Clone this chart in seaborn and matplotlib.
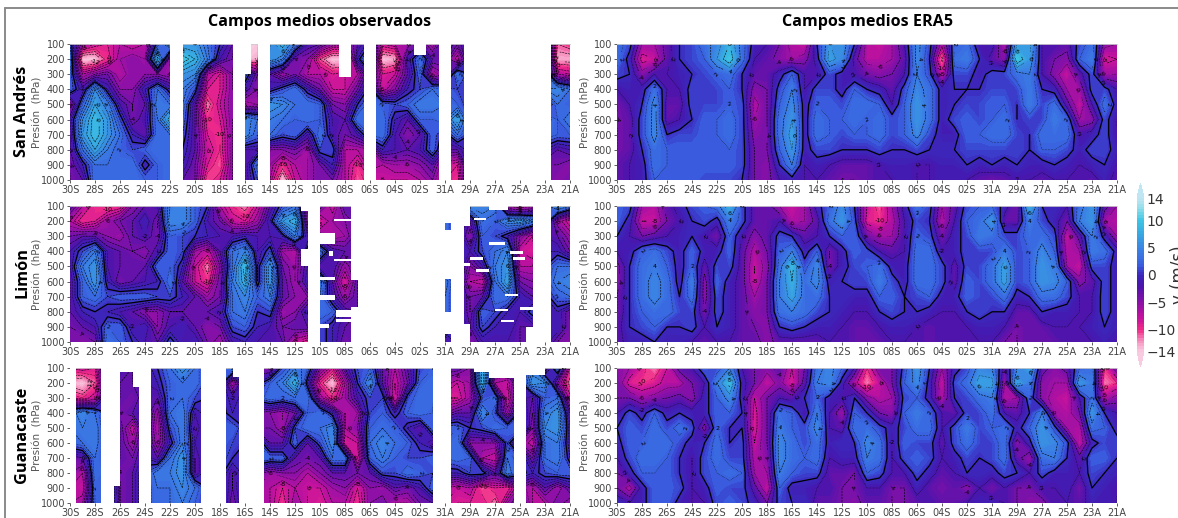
import numpy as np
import matplotlib
matplotlib.use("Agg")
import matplotlib.pyplot as plt
from matplotlib.lines import Line2D
import seaborn as sns

# dias (cada 2 dias una etiqueta) y niveles de presion
dates = ["30S","28S","26S","24S","22S","20S","18S","16S","14S","12S","10S",
         "08S","06S","04S","02S","31A","29A","27A","25A","23A","21A"]
pres = [100,200,300,400,500,600,700,800,900,1000]

# v (m/s), una fila por dia (30S -> 21A), cada fila de 100 a 1000 hPa
sa_obs = [
 [1,3,2,2,-6,-2,-3,-3,-4,-4],[-6,-14,-7,-2,2,5,6,3,-1,-3],[-8,-14,-5,5,7,9,9,7,3,3],
 [-9,-10,-4,-1,4,6,6,4,3,3],[-7,-6,-7,-5,-2,1,3,2,3,3],[-8,-5,-5,-5,-4,-4,-1,1,3,3],
 [-7,-6,-5,-1,-3,-2,-3,2,-1,2],[1,8,-5,3,4,3,3,3,2,2],[6,-6,-6,-1,3,8,3,3,3,3],
 [6,10,6,4,3,2,1,0,-1,-3],[6,8,5,1,-3,-3,-3,-3,-4,-4],[3,4,-7,-9,-12,-10,-9,-8,-9,-11],
 [0,-2,-9,-9,-8,-9,-10,-10,-11,-9],[-3,-4,-5,-5,-5,-5,-5,-5,-5,-5],[-14,-14,2,-2,-7,5,5,-2,-3,-3],
 [-14,-13,-4,-5,-6,3,2,-2,3,1],[5,6,-3,-1,6,4,3,-5,-6,-7],[8,4,-6,1,5,3,1,-5,-10,-14],
 [3,-4,-4,3,3,2,2,-4,-7,-8],[-2,-5,-7,-1,3,3,-2,-6,-6,-6],[-3,-11,-7,-4,2,2,3,1,-4,-4],
 [-6,-14,-9,-8,-4,-2,-2,1,-1,-4],[-6,-14,-8,-8,-5,-3,-4,-7,-7,-7],[-3,-1,-7,-4,0,3,-2,-7,-10,-11],
 [0,5,-1,1,3,3,2,-6,-6,-9],[-8,-14,-9,-8,2,3,3,-1,-7,-8],[-7,-13,-8,-5,1,-1,-2,-2,-6,-8],
 [-6,-2,-3,-1,2,-3,-5,-3,-6,-8],[-3,3,2,1,4,2,-3,-2,-5,-7],[-7,-3,-7,3,4,2,2,2,-3,-5],
 [-1,-3,-5,2,3,3,-1,-3,-8,-9],[-4,-8,3,1,2,7,3,-3,-9,-10],[0,0,0,0,0,0,0,0,0,0],
 [0,0,0,0,0,0,0,0,0,0],[0,0,0,0,0,0,0,0,0,0],[0,0,0,0,0,0,0,0,0,0],
 [0,0,0,0,0,0,0,0,0,0],[0,0,0,0,0,0,0,0,0,0],[5,6,3,4,-2,4,3,-1,-4,-4],
 [-11,-13,-7,5,3,2,2,-3,-4,-5],[-10,-13,-8,3,2,4,2,-2,-5,-4],
]
sa_era = [
 [3,3,1,-2,-4,-4,-4,-4,-3,-3],[1,-1,0,-1,-2,-3,-3,-3,-2,-2],[-6,-9,-5,-1,0,1,1,0,-1,-1],
 [-6,-8,-2,3,5,5,5,3,3,2],[-3,-3,-2,-2,-3,-3,0,2,2,2],[0,0,-1,-2,-3,-2,1,2,2,2],
 [1,1,0,1,1,0,1,2,2,2],[3,2,1,1,1,2,2,2,2,1],[5,6,2,1,1,2,2,2,2,1],
 [8,10,3,2,2,3,3,2,2,1],[3,3,0,0,1,1,1,1,1,0],[-1,-2,-3,-5,-7,-6,-5,-4,-4,-4],
 [-2,-3,-3,-4,-4,-4,-4,-4,-5,-5],[-4,-5,-1,1,2,3,3,2,0,-2],[-7,-6,2,4,5,6,7,6,4,-1],
 [-8,-5,-2,-2,-1,-1,-1,-1,-2,-2],[0,-1,-2,1,2,3,3,1,-1,-2],[6,7,1,1,2,2,2,1,-2,-3],
 [6,5,-1,-1,1,2,1,0,-3,-4],[0,-3,-2,2,3,3,2,0,-3,-4],[-7,-7,-4,0,3,2,2,0,-3,-3],
 [-8,-7,-5,-1,2,3,3,1,-2,-2],[-6,-6,-4,-3,-2,1,1,0,-1,-2],[-2,-3,-2,1,2,2,2,0,-1,-1],
 [5,5,4,5,6,6,5,1,-2,-2],[1,0,1,3,3,3,1,0,-2,-2],[-7,-13,-8,-1,-1,-1,-1,0,-1,-1],
 [2,3,1,0,0,1,-1,0,-1,-1],[3,4,1,0,1,2,2,1,0,-2],[-2,0,-1,0,1,1,2,1,-1,-3],
 [-1,-3,1,1,2,2,3,1,0,-4],[-7,-5,1,1,2,3,3,1,-1,-3],[6,10,3,1,0,0,1,1,0,-2],
 [7,6,4,4,4,1,0,0,-1,-2],[-2,-2,-2,0,1,1,3,2,-1,-3],[-2,-4,-5,-1,3,4,3,2,0,-2],
 [-3,-5,-8,-6,-3,2,3,1,-1,-2],[1,2,-3,-6,-8,-6,-2,-1,-2,-2],[3,4,1,1,-2,-5,-1,1,-1,-3],
 [-5,-9,-6,1,3,1,1,1,0,-1],[-6,-8,-6,-2,-1,-2,-2,-1,-2,-3],
]
li_obs = [
 [-3,-7,-4,-2,-2,-3,-3,-3,-4,-4],[-7,-10,-3,1,4,2,2,-1,-3,-5],[-10,-9,-3,4,6,6,3,0,-2,-4],
 [-11,-6,-5,-2,-2,-1,1,-1,2,3],[-10,-4,-6,-3,-3,-4,2,-2,2,2],[-5,-3,-3,-4,-3,-3,2,-3,-2,0],
 [-3,-1,-2,-5,-3,-2,2,-5,-1,-2],[-2,-4,-4,-2,2,-1,1,-5,-5,-3],[4,5,2,2,2,3,1,-3,-2,1],
 [5,5,1,1,-1,-3,-1,-3,-1,-2],[2,2,0,-6,-8,-8,-3,-3,-3,-1],[0,-2,-1,-8,-12,-10,-6,-3,-5,-4],
 [-7,-4,-2,-3,-5,-4,-4,-2,-4,-6],[-10,-8,-2,3,3,4,3,3,1,-2],[-12,-9,-1,5,9,8,5,4,2,-1],
 [-8,-6,-2,-2,-1,-1,2,0,-1,-2],[-3,-1,-2,1,6,6,4,1,-2,-2],[1,6,-1,-6,-4,-3,-3,-6,-4,-3],
 [3,8,4,-7,-6,-6,-5,-5,-3,-8],[-5,-6,-2,1,-2,-1,-5,-1,-3,-10],[-4,-9,-5,3,-3,4,3,3,1,1],
 [-8,-6,-7,-2,-2,-3,-2,2,-1,-1],[-3,-5,-6,-3,-6,-9,-6,-2,-3,-4],[-3,-3,-3,-3,-3,-3,-3,-3,-3,-3],
 [0,0,0,0,0,0,0,0,0,0],[0,0,0,0,0,0,0,0,0,0],[0,0,0,0,0,0,0,0,0,0],
 [0,0,0,0,0,0,0,0,0,0],[0,0,0,0,0,0,0,0,0,0],[0,0,0,0,0,0,0,0,0,0],
 [2,3,3,0,0,4,3,3,0,-3],[0,0,0,0,0,0,0,0,0,0],[5,-3,-5,-2,-5,-7,-4,-4,-3,-5],
 [5,3,2,1,-2,-8,-3,2,1,-2],[4,2,1,3,4,3,3,1,-1,-2],[-7,5,-1,5,6,7,3,-1,-1,-2],
 [-9,6,-5,-8,-7,-4,-1,-2,-3,-3],[-7,4,-8,-9,-7,-5,-3,1,-3,-4],[2,3,-2,-1,0,1,-1,-1,-1,-1],
 [6,-6,-3,-1,3,4,2,-1,-1,-4],[3,-9,-6,-4,3,5,3,-4,-4,-5],
]
li_era = [
 [2,2,0,-2,-5,-5,-4,-4,-3,-3],[1,-1,-2,-1,0,0,0,0,0,-1],[-6,-8,-4,2,3,3,3,2,1,-1],
 [-7,-8,-3,3,4,5,5,3,2,0],[-3,-4,-2,1,2,3,3,3,0,-1],[-1,-2,-1,-1,-1,-1,0,1,0,-1],
 [1,0,0,2,2,4,3,1,1,-2],[2,1,-2,-1,-3,-5,-5,-4,-2,-3],[3,-1,-4,-1,1,2,1,1,0,-2],
 [8,4,2,2,1,-1,-1,-1,-1,-2],[1,1,-2,-3,-3,-3,-3,-3,-3,-3],[-3,-3,-5,-7,-8,-8,-6,-5,-4,-3],
 [-3,-3,-3,-4,-5,-4,-4,-4,-5,-5],[-6,-2,1,2,3,4,4,3,0,-3],[-8,-7,0,4,9,8,7,4,1,-3],
 [-6,-6,-3,-1,1,3,3,3,0,-3],[-1,-3,-2,2,5,5,3,1,-1,-3],[2,3,0,-4,-4,-1,0,0,-1,-2],
 [5,6,2,-1,-1,0,0,-1,-2,-2],[0,1,2,2,1,1,-1,-2,-3,-3],[-8,-9,-4,1,2,1,-1,-2,-3,-3],
 [-11,-10,-6,-2,3,4,2,0,-2,-3],[-6,-7,-6,-3,-1,1,2,1,-1,-2],[-1,-2,-2,-2,-1,-1,0,0,-1,-2],
 [3,1,2,3,3,3,1,0,-2,-2],[1,0,1,3,3,3,2,-1,-3,-3],[-6,-7,-4,-2,1,1,-1,-2,-2,-2],
 [-3,-2,-1,-1,-3,-3,-1,-2,-2,-2],[1,2,1,1,1,2,2,0,-2,-2],[2,3,4,1,1,1,1,1,-1,-2],
 [2,6,3,1,3,3,1,0,-1,-2],[-1,-3,1,4,7,7,3,0,-2,-4],[-4,-3,1,1,1,1,-1,-3,-4,-4],
 [8,4,3,2,2,2,0,-3,-3,-3],[0,1,3,5,6,6,3,0,-3,-3],[0,-1,1,2,4,5,3,-1,-2,-3],
 [-2,-4,-8,-7,-6,2,1,-1,-2,-2],[3,4,-3,-6,-8,-5,-2,-2,-2,-2],[6,6,4,4,1,-3,-2,-2,-1,-2],
 [-3,-6,-1,3,1,1,1,1,0,-1],[-6,-7,-6,-1,-1,-1,-1,-1,-1,-2],
]
gu_obs = [
 [-9,-13,-9,3,3,2,-4,-5,-7,-7],[-8,-14,-10,5,4,3,-3,-7,-8,-6],[-9,-11,-8,3,4,4,3,3,2,2],
 [0,0,0,0,0,0,1,2,3,3],[-2,-3,-3,-4,-3,-3,-3,-4,-4,-4],[-3,-3,-4,-3,-8,-6,-4,-3,-3,-3],
 [-2,-2,-2,-1,-1,-1,-1,1,1,1],[0,-1,-3,-6,-7,-6,-3,4,3,3],[3,2,2,3,1,-1,3,4,3,3],
 [6,3,3,4,4,4,6,6,5,4],[3,3,1,-2,-3,-2,-3,-3,3,2],[0,0,0,0,0,0,0,0,0,0],
 [2,2,1,1,2,2,2,1,0,1],[4,-7,-2,-1,2,1,0,-3,-3,-4],[0,0,0,0,0,0,0,0,0,0],
 [-5,-1,1,-4,-4,2,3,-4,-6,-6],[-5,2,3,-5,-4,-3,2,-6,-7,-7],[1,4,2,-6,-6,-3,2,-5,-9,-10],
 [4,8,3,-4,1,2,-3,-5,-7,-6],[2,-1,3,2,3,-3,-4,-7,-8,-8],[-5,-10,-6,3,3,1,-3,-5,-8,-9],
 [-9,-14,-10,-1,5,5,3,-3,-6,-7],[-3,-7,-6,-7,-7,-9,3,-3,-5,-7],[1,0,-2,-6,-5,-8,-9,-4,-9,-10],
 [2,5,1,1,2,3,2,-3,-5,-5],[-3,-3,1,2,3,5,4,1,-6,-4],[-7,-8,-9,-1,2,3,2,1,-3,-7],
 [-3,-4,1,2,-1,2,1,3,-4,-7],[1,2,3,3,-3,-1,1,2,-2,-4],[2,3,3,2,2,-3,2,1,2,-3],
 [-3,-6,-9,-5,2,2,2,-1,-7,-8],[-3,-8,-9,-3,2,3,3,-1,-8,-9],[-5,-6,-6,-3,0,-5,2,1,-7,-9],
 [8,8,1,5,1,-5,-7,1,-11,-9],[-3,-7,3,1,3,-5,-8,-3,-9,-12],[-3,-8,-9,-6,2,1,3,4,-10,-6],
 [-2,-1,-1,1,2,-5,1,1,-5,-3],[4,6,-3,-4,-5,-8,-4,-1,-7,-7],[-5,5,2,4,5,3,3,1,-3,-7],
 [3,-5,3,6,6,4,4,2,-6,-4],[-9,-12,-8,-3,-2,-2,-1,2,-3,-6],
]
gu_era = [
 [-5,-4,-4,-2,0,-1,-2,-4,-4,0],[-6,-9,-4,1,2,2,1,-1,-7,-2],[-9,-10,-6,-1,1,2,3,2,-1,-1],
 [-12,-9,-5,2,3,3,3,2,2,2],[-8,-7,-4,-1,1,3,2,2,2,2],[-3,-7,-3,0,3,1,0,0,1,-1],
 [-2,-4,-5,-1,1,-1,-2,-2,-2,-2],[2,-2,-1,-1,-5,0,1,1,-1,-2],[1,4,2,2,2,3,3,2,2,1],
 [4,9,5,2,0,0,1,3,1,2],[-2,-1,-1,0,0,1,1,2,1,1],[-4,-4,-8,-9,-9,-8,-7,-6,-3,-1],
 [-5,-8,-4,-4,-4,-4,-5,-6,-8,-4],[-3,-5,-2,3,4,5,5,4,2,1],[-8,-9,-3,2,2,3,3,2,-1,0],
 [-4,-3,0,-2,1,1,2,1,-1,0],[3,4,2,4,5,3,3,1,-2,-3],[5,5,-1,-2,-2,-1,-2,-3,-2,-3],
 [2,-1,-2,-6,-3,0,-1,-3,-4,-4],[-2,-7,0,2,3,0,-1,-4,-4,-5],[-10,-12,-5,0,3,5,4,2,-2,-3],
 [-4,-8,-7,-4,1,3,3,1,-2,-3],[-4,-4,-6,-5,-1,-2,-2,-2,-4,-4],[1,2,1,2,1,2,1,-2,-4,-4],
 [6,5,2,4,3,1,2,1,-1,-3],[0,-1,-1,2,3,1,1,-1,-3,-2],[-6,-8,-7,-2,-2,-3,-2,-3,-4,-3],
 [-1,1,0,-3,1,1,-1,-2,-3,-3],[1,3,1,1,4,3,1,0,-5,-2],[5,7,3,1,1,1,0,0,-2,-1],
 [4,7,4,3,2,1,1,-1,-4,-1],[-3,-6,-7,-2,3,3,3,1,-2,-2],[4,7,-6,-3,-1,-5,-3,0,-4,-4],
 [7,4,2,0,2,-1,-6,-2,-4,-5],[-3,-5,-5,4,6,6,3,1,-2,-5],[-5,-6,-7,-6,1,5,4,-1,-2,-2],
 [-3,-6,-8,-7,-6,1,0,-1,-1,-2],[2,6,-2,-4,-7,-8,-3,-2,-4,-3],[3,4,3,6,3,-1,2,1,0,-1],
 [-10,-12,-7,0,2,1,2,0,-1,-1],[-4,-10,-5,-2,-1,1,0,-1,-2,-2],
]

# huecos sin datos: dia inicio, dia fin, presion arriba, presion abajo
sa_gaps = [(8,9,100,1000),(13,14,100,1000),(15,16,100,1000),(23.5,24.5,100,1000),
           (29.5,30.5,100,1000),(31.5,38.5,100,1000),(21.5,22.5,100,320),(27.5,28.5,100,170),
           (14,14.5,100,300)]
li_gaps = [(19,20,100,1000),(18.5,19,100,135),(18.5,19,385,500),(20,21.2,280,350),(20.7,21,400,430),
           (21.1,22.5,185,200),(21.1,22.5,450,465),(20,21.2,570,590),(20,21.2,690,720),
           (21.3,23,790,835),(21.3,23,850,870),(20,20.7,880,905),(22.5,23,100,590),(22.5,23,770,1000),
           (23,30,100,1000),(30,30.5,100,215),(30,30.5,260,580),(30,30.5,800,950),(30.5,31.5,100,1000),
           (31.5,32,100,230),(31.5,32,480,500),(36.5,37,900,1000),(33.5,35,100,125),(32.3,33.3,180,190),
           (33.5,34.8,340,355),(32,33,440,460),(32.5,33.5,520,540),(35.2,36.2,400,420),(35.4,36.4,440,460),
           (34.8,35.8,680,695),(36,37,770,790),(34,35,780,795),(34.5,35.5,855,870),(37,38.5,100,1000),
           (31.5,32,880,1000)]
gu_gaps = [(0,0.45,100,1000),(2.5,3.5,100,1000),(3.5,4,100,890),(4,5,100,130),(5,5.5,100,230),
           (5.5,6.5,100,1000),(10.5,12.5,100,1000),(13,13.5,100,160),(13.5,15.5,100,1000),
           (29,30.5,100,1000),(32.3,33.5,100,130),(33.5,35.5,100,165),(35.5,36.5,100,1000),(36.5,38,100,150)]

# figure layout
colors = ["#f9cbe0","#f78dbd","#ef2b88","#c8129c","#8a10a8","#4a14ac","#3b28bc",
          "#3a60e0","#3a86e4","#38aee2","#3cc4e4","#8adcea","#bfe6f2"]
stops = [-14,-12,-10,-8,-5,-2,0,2,5,8,10,12,14]
sns.set_theme(style="white")
pos = (np.array(stops) + 14) / 28
cmap = matplotlib.colors.LinearSegmentedColormap.from_list("vwind", list(zip(pos, colors)))
cmap.set_under(colors[0])
cmap.set_over(colors[-1])

days = np.arange(41)
tick_c = "#444444"
W, H = 1178, 518
lefts = [70, 617]
tops = [44, 206, 368]
bottoms = [180, 342, 503]
panel_w = 500

fig = plt.figure(figsize=(11.78, 5.18), dpi=100)

panels = [[sa_obs, sa_era], [li_obs, li_era], [gu_obs, gu_era]]
gaps = [sa_gaps, li_gaps, gu_gaps]
names = ["San Andrés", "Limón", "Guanacaste"]

for r in range(3):
    for c in range(2):
        vals = np.array(panels[r][c], dtype=float).T
        ax = fig.add_axes([lefts[c] / W, 1 - bottoms[r] / H, panel_w / W, (bottoms[r] - tops[r]) / H])
        cf = ax.contourf(days, pres, vals, levels=np.linspace(-14, 14, 57), cmap=cmap, extend="both")
        # observados con mas isolineas que ERA5
        lv = list(range(-12, 13, 1 if c == 0 else 2))
        cs = ax.contour(days, pres, vals, levels=lv, colors="black",
                        linewidths=[0.9 if l == 0 else 0.4 for l in lv],
                        linestyles=["solid" if l == 0 else ("dotted" if abs(l) % 4 == 2 else "dashed") for l in lv])
        ax.clabel(cs, levels=[l for l in lv if l != 0 and l % 2 == 0], fmt="%d", fontsize=4.5, inline=True)
        if c == 0:
            for d0, d1, p0, p1 in gaps[r]:
                ax.fill_betweenx([p0, p1], d0, d1, color="white", lw=0, zorder=5)
        ax.set_xlim(0, 40)
        ax.set_ylim(1000, 100)
        ax.set_xticks(days[::2])
        ax.set_xticklabels(dates)
        ax.set_yticks(pres)
        sns.despine(ax=ax, top=False, left=True, bottom=True)
        ax.xaxis.tick_bottom()
        ax.yaxis.tick_left()
        ax.tick_params(axis="both", labelsize=7, length=2, width=0.6, pad=1.5,
                       colors=tick_c, left=True, bottom=True)
        ax.set_ylabel("Presión  (hPa)", fontsize=7.5, color="#555555")
        ax.yaxis.set_label_coords(-27 / panel_w, 0.5)
        ax.spines["top"].set_color("#cccccc")
        ax.spines["top"].set_linewidth(0.6)
        ax.grid(False)
    fig.text(22 / W, 1 - (tops[r] + bottoms[r] - 2) / 2 / H, names[r], rotation=90, ha="center", va="center",
             fontsize=11.8, fontweight="bold", family="Open Sans", color="black")

fig.text(320 / W, 1 - 22 / H, "Campos medios observados", ha="center", va="center",
         fontsize=11.6, fontweight="bold", family="Open Sans", color="black")
fig.text(868 / W, 1 - 22 / H, "Campos medios ERA5", ha="center", va="center",
         fontsize=11.6, fontweight="bold", family="Open Sans", color="black")

# barra de color
cax = fig.add_axes([1137 / W, 1 - 367 / H, 7 / W, 184 / H])
cb = fig.colorbar(cf, cax=cax, extend="both", ticks=[-14,-10,-5,0,5,10,14], extendfrac=0.1, drawedges=False)
cb.outline.set_visible(False)
cb.ax.tick_params(labelsize=10, length=0, pad=2, colors="#333333")
cb.set_label("v (m/s)", fontsize=12, color="#333333")
cb.ax.yaxis.set_label_coords(33 / 7, 0.5)

# marco gris
fig.add_artist(Line2D([5 / W, 1], [1 - 8 / H, 1 - 8 / H], color="#8a8a8a", lw=1.4))
fig.add_artist(Line2D([5 / W, 5 / W], [0, 1 - 8 / H], color="#8a8a8a", lw=1.4))

fig.savefig("out.png", dpi=100)
